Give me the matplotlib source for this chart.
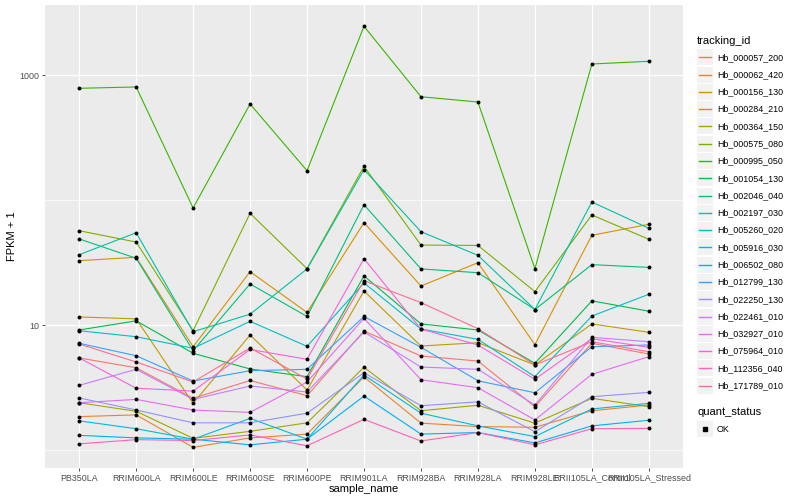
import matplotlib
matplotlib.use("Agg")
import matplotlib.pyplot as plt
import numpy as np
from matplotlib.ticker import FixedLocator, NullFormatter, FixedFormatter
from matplotlib.patches import Rectangle
from matplotlib.lines import Line2D

plt.rcParams['font.family'] = ['Liberation Sans', 'DejaVu Sans']

samples = ["PB350LA", "RRIM600LA", "RRIM600LE", "RRIM600SE", "RRIM600PE", "RRIM901LA",
           "RRIM928BA", "RRIM928LA", "RRIM928LE", "RRII105LA_Control", "RRII105LA_Stressed"]

tracking_ids = ["Hb_000057_200", "Hb_000062_420", "Hb_000156_130", "Hb_000284_210",
                "Hb_000364_150", "Hb_000575_080", "Hb_000995_050", "Hb_001054_130",
                "Hb_002046_040", "Hb_002197_030", "Hb_005260_020", "Hb_005916_030",
                "Hb_006502_080", "Hb_012799_130", "Hb_022250_130", "Hb_022461_010",
                "Hb_032927_010", "Hb_075964_010", "Hb_112356_040", "Hb_171789_010"]

colors = ["#F8766D", "#EA8331", "#D89000", "#C09B00", "#A3A500", "#7CAE00", "#39B600",
          "#00BB4E", "#00BF7D", "#00C1A3", "#00BFC4", "#00BAE0", "#00B0F6", "#35A2FF",
          "#9590FF", "#C77CFF", "#E76BF3", "#FA62DB", "#FF62BC", "#FF6C91"]

# FPKM + 1 values per tracking_id, in sample order
hb_000057_200 = [5.45, 4.55, 2.59, 3.60, 2.72, 8.95, 5.65, 5.15, 2.22, 7.14, 5.86]
hb_000062_420 = [1.85, 1.91, 1.05, 1.25, 1.34, 3.84, 1.64, 1.54, 1.52, 2.06, 2.29]
hb_000156_130 = [32.7, 34.8, 6.70, 26.7, 12.6, 65.8, 20.5, 31.5, 6.96, 52.2, 63.9]
hb_000284_210 = [11.6, 11.2, 2.36, 8.32, 3.02, 18.7, 6.79, 7.22, 4.79, 10.2, 8.74]
hb_000364_150 = [2.39, 2.04, 1.24, 1.41, 1.65, 4.59, 2.06, 2.28, 1.64, 2.59, 2.22]
hb_000575_080 = [56.8, 46.1, 9.00, 78.3, 28.2, 186, 43.6, 43.3, 18.5, 75.9, 48.5]
hb_000995_050 = [783, 802, 86.3, 586, 171.5, 2452, 670, 608, 28.2, 1225, 1287]
hb_001054_130 = [9.12, 10.8, 5.94, 4.45, 3.86, 24.7, 10.2, 9.12, 4.94, 15.6, 12.9]
hb_002046_040 = [48.8, 34.2, 6.23, 21.3, 11.7, 91.7, 28.1, 26.2, 13.3, 30.4, 28.9]
hb_002197_030 = [36.5, 54.7, 8.84, 12.2, 28.1, 175, 55.8, 36.1, 13.3, 96.4, 59.4]
hb_005260_020 = [9.00, 8.06, 6.51, 10.7, 6.75, 21.7, 9.29, 7.68, 3.86, 11.8, 17.6]
hb_005916_030 = [1.71, 1.48, 1.22, 1.79, 1.22, 3.98, 1.97, 1.56, 1.28, 2.13, 2.36]
hb_006502_080 = [1.31, 1.25, 1.22, 1.10, 1.22, 2.70, 1.34, 1.38, 1.14, 1.56, 1.73]
hb_012799_130 = [7.14, 5.68, 3.56, 4.31, 4.42, 11.7, 6.63, 3.58, 2.87, 6.70, 6.92]
hb_022250_130 = [2.61, 2.09, 1.65, 1.65, 1.97, 4.15, 2.26, 2.43, 1.40, 2.67, 2.89]
hb_022461_010 = [3.29, 4.42, 2.54, 3.25, 2.91, 8.79, 4.61, 4.42, 2.29, 7.97, 7.35]
hb_032927_010 = [2.39, 2.54, 2.09, 2.00, 3.50, 11.3, 3.65, 3.15, 1.74, 4.03, 5.58]
hb_075964_010 = [5.45, 3.12, 2.96, 6.37, 5.32, 33.9, 9.29, 6.92, 3.68, 7.77, 6.63]
hb_112356_040 = [1.12, 1.21, 1.19, 1.32, 1.08, 1.76, 1.18, 1.38, 1.10, 1.48, 1.49]
hb_171789_010 = [7.05, 5.06, 3.50, 6.55, 3.70, 22.6, 15.1, 9.34, 4.79, 7.35, 6.11]

series = [hb_000057_200, hb_000062_420, hb_000156_130, hb_000284_210, hb_000364_150,
          hb_000575_080, hb_000995_050, hb_001054_130, hb_002046_040, hb_002197_030,
          hb_005260_020, hb_005916_030, hb_006502_080, hb_012799_130, hb_022250_130,
          hb_022461_010, hb_032927_010, hb_075964_010, hb_112356_040, hb_171789_010]

W, H = 800, 500
fig = plt.figure(figsize=(W / 100, H / 100), dpi=100)
fig.patch.set_facecolor("white")

def fx(px):
    return px / W

def fy(py):
    return 1 - py / H

ax = fig.add_axes([fx(45), fy(468), (683 - 45) / W, (468 - 5) / H])
ax.set_facecolor("#EBEBEB")
for sp in ax.spines.values():
    sp.set_visible(False)

x = np.arange(len(samples))
for vals, c in zip(series, colors):
    ax.plot(x, vals, color=c, lw=0.8, zorder=2, solid_capstyle="butt")
for vals in series:
    ax.scatter(x, vals, s=8, color="black", zorder=3, linewidths=0)

ax.set_yscale("log")
ax.set_ylim(10 ** -0.144, 10 ** 3.56)
ax.set_xlim(-0.6, len(samples) - 0.4)
ax.set_xticks(x)
ax.set_xticklabels(samples)
ax.yaxis.set_major_locator(FixedLocator([10, 1000]))
ax.yaxis.set_major_formatter(FixedFormatter(["10", "1000"]))
ax.yaxis.set_minor_locator(FixedLocator([1, 100]))
ax.yaxis.set_minor_formatter(NullFormatter())
ax.set_axisbelow(True)
ax.grid(which="major", color="white", lw=0.9)
ax.grid(which="minor", axis="y", color="white", lw=0.5)
ax.tick_params(which="minor", length=0)
ax.tick_params(which="major", length=2.5, width=0.6, color="#333333",
               labelcolor="#4D4D4D", labelsize=6.4, pad=1.5)

fig.text(fx(364), fy(489), "sample_name", ha="center", va="center", fontsize=8, color="black")
fig.text(fx(12), fy(236), "FPKM + 1", ha="center", va="center", rotation=90,
         fontsize=8, color="black")

# legend: tracking_id
fig.text(fx(697), fy(40.5), "tracking_id", ha="left", va="center", fontsize=8, color="black")
step = 17.28
for i, (tid, c) in enumerate(zip(tracking_ids, colors)):
    cy = 57.3 + i * step
    fig.patches.append(Rectangle((fx(697), fy(cy + 8)), 16 / W, 16 / H,
                                 transform=fig.transFigure, facecolor="#F2F2F2",
                                 edgecolor="none"))
    fig.lines.append(Line2D([fx(699), fx(711)], [fy(cy), fy(cy)],
                            transform=fig.transFigure, color=c, lw=1.0))
    fig.text(fx(717), fy(cy), tid, ha="left", va="center", fontsize=6.4, color="black")

# legend: quant_status
fig.text(fx(697), fy(412), "quant_status", ha="left", va="center", fontsize=8, color="black")
fig.patches.append(Rectangle((fx(697), fy(429.3 + 8)), 16 / W, 16 / H,
                             transform=fig.transFigure, facecolor="#F2F2F2",
                             edgecolor="none"))
fig.lines.append(Line2D([fx(705)], [fy(429.3)], transform=fig.transFigure,
                        marker="s", markersize=2.6, color="black", linestyle="none"))
fig.text(fx(717), fy(429.3), "OK", ha="left", va="center", fontsize=6.4, color="black")

fig.savefig("out.png", dpi=100)
